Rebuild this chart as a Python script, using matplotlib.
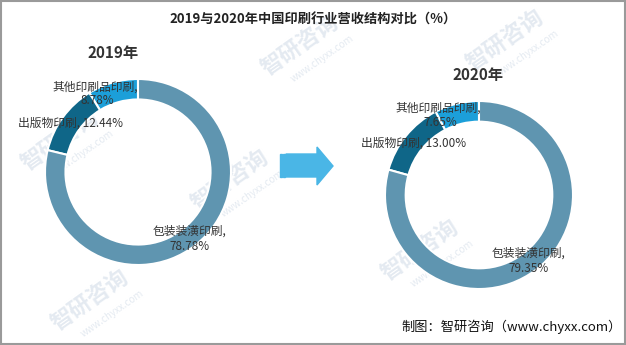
import matplotlib.pyplot as plt
from matplotlib.patches import Polygon, Rectangle

plt.rcParams['font.family'] = ['Noto Sans CJK SC', 'DejaVu Sans']

# data
categories = ['其他印刷品印刷', '出版物印刷', '包装装潢印刷']
share_2019 = [8.78, 12.44, 78.78]
share_2020 = [7.65, 13.00, 79.35]
colors = ['#1c9fd9', '#0f6688', '#5f95b0']

W, H = 626, 345
fig = plt.figure(figsize=(W / 100, H / 100), dpi=100)


def overlay():
    a = fig.add_axes([0, 0, 1, 1])
    a.set_xlim(0, W)
    a.set_ylim(H, 0)
    a.axis('off')
    a.patch.set_alpha(0)
    return a


# background layer: faint watermarks
bg = overlay()
for x, y in [(60, 140), (300, 45), (230, 180), (505, 40), (90, 300), (420, 250)]:
    bg.text(x, y, '智研咨询', fontsize=16, color='#e4eaf1', rotation=35,
            ha='center', va='center', fontweight='bold')
    bg.text(x + 22, y + 14, 'www.chyxx.com', fontsize=7, color='#e4eaf1',
            rotation=35, ha='center', va='center')


def donut(cx, cy, r, values):
    ax = fig.add_axes([(cx - r) / W, (H - cy - r) / H, 2 * r / W, 2 * r / H])
    ax.pie(values, colors=colors, startangle=90, counterclock=True,
           radius=1, wedgeprops=dict(width=0.22, edgecolor='white', linewidth=1.5))
    ax.set_xlim(-1, 1)
    ax.set_ylim(-1, 1)
    ax.set_aspect('equal')
    ax.axis('off')
    return ax


donut(138, 172, 93, share_2019)
donut(479, 195, 94, share_2020)

# top layer: texts and decoration
fg = overlay()
fg.text(313, 20, '2019与2020年中国印刷行业营收结构对比（%）', fontsize=9.5,
        fontweight='bold', color='#222222', ha='center', va='center')
fg.text(113, 53, '2019年', fontsize=11, fontweight='bold', color='#333333',
        ha='center', va='center')
fg.text(478, 75, '2020年', fontsize=11, fontweight='bold', color='#333333',
        ha='center', va='center')

lab = dict(fontsize=8.5, color='#333333', ha='center', va='center')


def labels(vals, pos):
    (x0, y0), (x1, y1), (x2, y2) = pos
    fg.text(x0, y0, f'{categories[0]},', **lab)
    fg.text(x0 + 2, y0 + 14, f'{vals[0]:.2f}%', **lab)
    fg.text(x1, y1, f'{categories[1]}, {vals[1]:.2f}%', **lab)
    fg.text(x2, y2, f'{categories[2]},', **lab)
    fg.text(x2, y2 + 15, f'{vals[2]:.2f}%', **lab)


labels(share_2019, [(95, 87), (71, 123), (190, 231)])
labels(share_2020, [(438, 108), (414, 143), (529, 253)])

# arrow
fg.add_patch(Polygon([(286, 154), (317, 154), (317, 147), (333, 166), (317, 185),
                      (317, 177), (286, 177)], closed=True, color='#4ab6e6'))
for x in (280, 283):
    fg.add_patch(Rectangle((x, 154), 2, 23, color='#4ab6e6'))

fg.text(512, 327, '制图：智研咨询（www.chyxx.com）', fontsize=9.5,
        color='#111111', ha='center', va='center')

# frame
fg.add_patch(Rectangle((0.5, 0.5), W - 1.5, H - 1.5, fill=False,
                       edgecolor='#9a9a9a', linewidth=1.5))

fig.savefig('out.png', dpi=100)
